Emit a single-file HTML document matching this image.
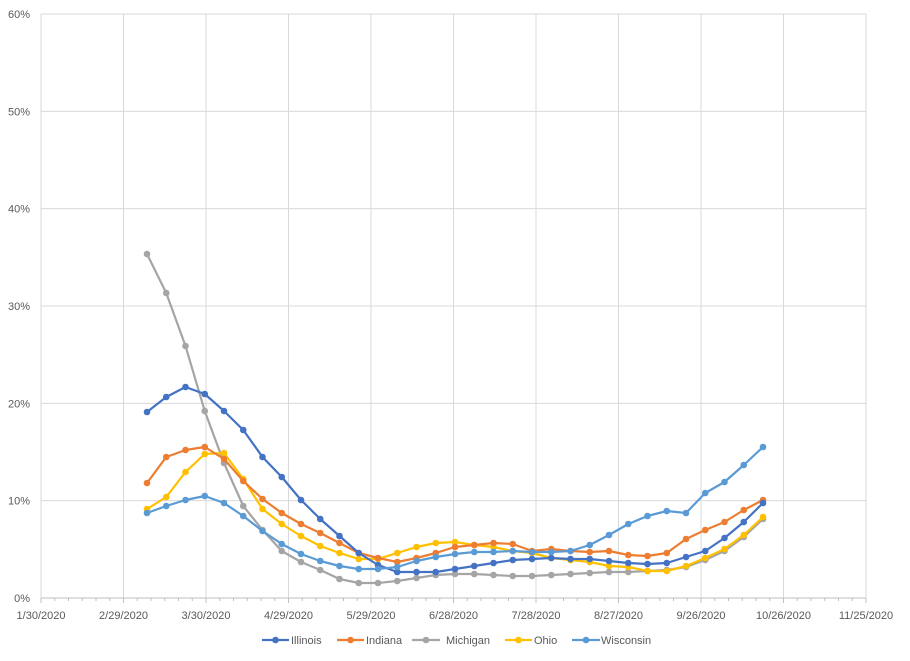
<!DOCTYPE html>
<html><head><meta charset="utf-8"><style>
body{margin:0;background:#fff;}
svg{display:block;font-family:"Liberation Sans",sans-serif;}
</style></head><body>
<svg id="s" width="910" height="661" xmlns="http://www.w3.org/2000/svg">
<rect x="0" y="0" width="910" height="661" fill="#fff"/>
<g id="grid"></g><g id="series"></g>
<g font-size="11" fill="#595959">
<line x1="262" y1="640" x2="289" y2="640" stroke="#4472C4" stroke-width="2.2"/><circle cx="275.5" cy="640" r="3.3" fill="#4472C4"/><text x="291" y="644">Illinois</text>
<line x1="337" y1="640" x2="364" y2="640" stroke="#ED7D31" stroke-width="2.2"/><circle cx="350.5" cy="640" r="3.3" fill="#ED7D31"/><text x="366" y="644">Indiana</text>
<line x1="412" y1="640" x2="440" y2="640" stroke="#A5A5A5" stroke-width="2.2"/><circle cx="426" cy="640" r="3.3" fill="#A5A5A5"/><text x="446" y="644">Michigan</text>
<line x1="505" y1="640" x2="532" y2="640" stroke="#FFC000" stroke-width="2.2"/><circle cx="518.5" cy="640" r="3.3" fill="#FFC000"/><text x="534" y="644">Ohio</text>
<line x1="572" y1="640" x2="600" y2="640" stroke="#5B9BD5" stroke-width="2.2"/><circle cx="586" cy="640" r="3.3" fill="#5B9BD5"/><text x="601" y="644">Wisconsin</text>
</g>
</svg>
<script>
var NS="http://www.w3.org/2000/svg";
function el(p,t,a,txt){var e=document.createElementNS(NS,t);for(var k in a)e.setAttribute(k,a[k]);if(txt!==undefined)e.textContent=txt;p.appendChild(e);return e;}
var g=document.getElementById('grid');
var x0=41,x1=866,y0=598,yt=14;
var dates=["1/30/2020","2/29/2020","3/30/2020","4/29/2020","5/29/2020","6/28/2020","7/28/2020","8/27/2020","9/26/2020","10/26/2020","11/25/2020"];
for(var i=0;i<=6;i++){var y=y0-(y0-yt)*i/6;
 if(i>0)el(g,'line',{x1:x0,x2:x1,y1:y,y2:y,stroke:'#d9d9d9','stroke-width':1});
 el(g,'text',{x:30,y:y+4,'text-anchor':'end','font-size':11,fill:'#595959'},(i*10)+'%');}
for(var i=0;i<dates.length;i++){var x=x0+(x1-x0)*i/10;
 el(g,'line',{x1:x,x2:x,y1:yt,y2:y0,stroke:'#d9d9d9','stroke-width':1});
 el(g,'line',{x1:x,x2:x,y1:y0,y2:y0+5,stroke:'#bfbfbf','stroke-width':1});
 el(g,'text',{x:x,y:619,'text-anchor':'middle','font-size':11,fill:'#595959'},dates[i]);}
for(var i=0;i<=60;i++){var x=x0+(x1-x0)*i/60;el(g,'line',{x1:x,x2:x,y1:y0,y2:y0+3,stroke:'#bfbfbf','stroke-width':1});}
el(g,'line',{x1:x0,x2:x1,y1:y0,y2:y0,stroke:'#bfbfbf','stroke-width':1});
var S=[
["#A5A5A5",[254,293,346,411,463,506,530,551,562,570,579,583,583,581,578,575,574,574,575,576,576,575,574,573,572,572,571,570,567,560,551,537,519]],
["#FFC000",[509,497,472,454,453,479,509,524,536,546,553,559,559,553,547,543,542,545,547,551,553,558,560,562,566,567,571,571,566,558,549,535,517]],
["#ED7D31",[483,457,450,447,459,481,499,513,524,533,543,553,558,562,558,553,547,545,543,544,551,549,551,552,551,555,556,553,539,530,522,510,500]],
["#4472C4",[412,397,387,394,411,430,457,477,500,519,536,553,565,572,572,572,569,566,563,560,559,558,559,559,561,563,564,563,557,551,538,522,503]],
["#5B9BD5",[513,506,500,496,503,516,531,544,554,561,566,569,569,567,561,557,554,552,552,551,552,552,551,545,535,524,516,511,513,493,482,465,447]]
];
var sg=document.getElementById('series');
S.forEach(function(s){var pts=s[1].map(function(y,i){return [147+19.25*i,y];});
 el(sg,'polyline',{points:pts.map(function(p){return p.join(',')}).join(' '),fill:'none',stroke:s[0],'stroke-width':2.2,'stroke-linejoin':'round'});
 pts.forEach(function(p){el(sg,'circle',{cx:p[0],cy:p[1],r:3.3,fill:s[0]});});});
</script>
</body></html>
